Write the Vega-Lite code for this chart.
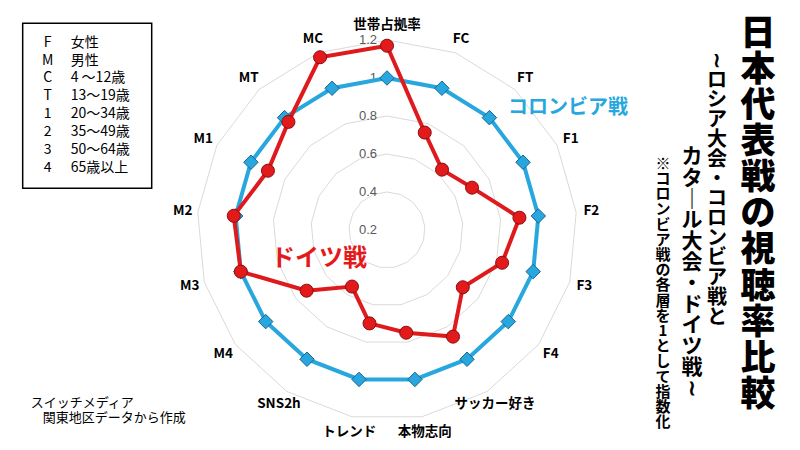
{
  "$schema": "https://vega.github.io/schema/vega-lite/v6.json",
  "width": 800,
  "height": 450,
  "autosize": {"type": "none"},
  "padding": 0,
  "background": "#ffffff",
  "config": {
    "view": {"stroke": null},
    "text": {"font": "Noto Sans CJK JP", "color": "#000000"}
  },
  "datasets": {
    "scores": [
      {"axis": "世帯占拠率", "k": 0, "match": "コロンビア戦", "index": 1.0},
      {"axis": "FC", "k": 1, "match": "コロンビア戦", "index": 1.0},
      {"axis": "FT", "k": 2, "match": "コロンビア戦", "index": 1.0},
      {"axis": "F1", "k": 3, "match": "コロンビア戦", "index": 1.0},
      {"axis": "F2", "k": 4, "match": "コロンビア戦", "index": 1.0},
      {"axis": "F3", "k": 5, "match": "コロンビア戦", "index": 1.0},
      {"axis": "F4", "k": 6, "match": "コロンビア戦", "index": 1.0},
      {"axis": "サッカー好き", "k": 7, "match": "コロンビア戦", "index": 1.0},
      {"axis": "本物志向", "k": 8, "match": "コロンビア戦", "index": 1.0},
      {"axis": "トレンド", "k": 9, "match": "コロンビア戦", "index": 1.0},
      {"axis": "SNS2h", "k": 10, "match": "コロンビア戦", "index": 1.0},
      {"axis": "M4", "k": 11, "match": "コロンビア戦", "index": 1.0},
      {"axis": "M3", "k": 12, "match": "コロンビア戦", "index": 1.0},
      {"axis": "M2", "k": 13, "match": "コロンビア戦", "index": 1.0},
      {"axis": "M1", "k": 14, "match": "コロンビア戦", "index": 1.0},
      {"axis": "MT", "k": 15, "match": "コロンビア戦", "index": 1.0},
      {"axis": "MC", "k": 16, "match": "コロンビア戦", "index": 1.0},
      {"axis": "世帯占拠率", "k": 0, "match": "ドイツ戦", "index": 1.17},
      {"axis": "FC", "k": 1, "match": "ドイツ戦", "index": 0.75},
      {"axis": "FT", "k": 2, "match": "ドイツ戦", "index": 0.63},
      {"axis": "F1", "k": 3, "match": "ドイツ戦", "index": 0.7},
      {"axis": "F2", "k": 4, "match": "ドイツ戦", "index": 0.9},
      {"axis": "F3", "k": 5, "match": "ドイツ戦", "index": 0.83},
      {"axis": "F4", "k": 6, "match": "ドイツ戦", "index": 0.7},
      {"axis": "サッカー好き", "k": 7, "match": "ドイツ戦", "index": 0.86},
      {"axis": "本物志向", "k": 8, "match": "ドイツ戦", "index": 0.75},
      {"axis": "トレンド", "k": 9, "match": "ドイツ戦", "index": 0.7},
      {"axis": "SNS2h", "k": 10, "match": "ドイツ戦", "index": 0.55},
      {"axis": "M4", "k": 11, "match": "ドイツ戦", "index": 0.73},
      {"axis": "M3", "k": 12, "match": "ドイツ戦", "index": 1.0},
      {"axis": "M2", "k": 13, "match": "ドイツ戦", "index": 1.01},
      {"axis": "M1", "k": 14, "match": "ドイツ戦", "index": 0.9},
      {"axis": "MT", "k": 15, "match": "ドイツ戦", "index": 0.97},
      {"axis": "MC", "k": 16, "match": "ドイツ戦", "index": 1.175}
    ],
    "rings": [
      {"level": 0.4, "k": [0, 1, 2, 3, 4, 5, 6, 7, 8, 9, 10, 11, 12, 13, 14, 15, 16]},
      {"level": 0.6, "k": [0, 1, 2, 3, 4, 5, 6, 7, 8, 9, 10, 11, 12, 13, 14, 15, 16]},
      {"level": 0.8, "k": [0, 1, 2, 3, 4, 5, 6, 7, 8, 9, 10, 11, 12, 13, 14, 15, 16]},
      {"level": 1.0, "k": [0, 1, 2, 3, 4, 5, 6, 7, 8, 9, 10, 11, 12, 13, 14, 15, 16]},
      {"level": 1.2, "k": [0, 1, 2, 3, 4, 5, 6, 7, 8, 9, 10, 11, 12, 13, 14, 15, 16]}
    ],
    "ticks": [
      {"v": 0.2, "label": "0.2"},
      {"v": 0.4, "label": "0.4"},
      {"v": 0.6, "label": "0.6"},
      {"v": 0.8, "label": "0.8"},
      {"v": 1.0, "label": "1"},
      {"v": 1.2, "label": "1.2"}
    ],
    "note": [{"n": 1}]
  },
  "layer": [
    {
      "data": {"name": "rings"},
      "transform": [
        {"flatten": ["k"]},
        {"calculate": "(datum.level - 0.2) * sin(datum.k * 2 * PI / 17)", "as": "x"},
        {"calculate": "(datum.level - 0.2) * cos(datum.k * 2 * PI / 17)", "as": "y"}
      ],
      "mark": {"type": "line", "interpolate": "linear-closed", "color": "#dadada", "strokeWidth": 1},
      "encoding": {
        "x": {"field": "x", "type": "quantitative", "axis": null, "scale": {"domain": [-2.0368, 2.1737], "nice": false, "zero": false}},
        "y": {"field": "y", "type": "quantitative", "axis": null, "scale": {"domain": [-1.1579, 1.2105], "nice": false, "zero": false}},
        "detail": {"field": "level", "type": "nominal"},
        "order": {"field": "k", "type": "quantitative"}
      }
    },
    {
      "data": {"name": "ticks"},
      "transform": [{"calculate": "datum.v - 0.2", "as": "y"}],
      "mark": {"type": "text", "align": "right", "baseline": "middle", "dx": -10, "fontSize": 13, "color": "#595959", "font": "Liberation Sans"},
      "encoding": {
        "x": {"datum": 0, "type": "quantitative", "axis": null, "scale": {"domain": [-2.0368, 2.1737], "nice": false, "zero": false}},
        "y": {"field": "y", "type": "quantitative", "axis": null, "scale": {"domain": [-1.1579, 1.2105], "nice": false, "zero": false}},
        "text": {"field": "label", "type": "nominal"}
      }
    },
    {
      "data": {"name": "scores"},
      "transform": [
        {"calculate": "(datum.index - 0.2) * sin(datum.k * 2 * PI / 17)", "as": "x"},
        {"calculate": "(datum.index - 0.2) * cos(datum.k * 2 * PI / 17)", "as": "y"},
        {"calculate": "1.08 * sin(datum.k * 2 * PI / 17)", "as": "lx"},
        {"calculate": "1.08 * cos(datum.k * 2 * PI / 17)", "as": "ly"}
      ],
      "encoding": {
        "x": {"field": "x", "type": "quantitative", "axis": null, "scale": {"domain": [-2.0368, 2.1737], "nice": false, "zero": false}},
        "y": {"field": "y", "type": "quantitative", "axis": null, "scale": {"domain": [-1.1579, 1.2105], "nice": false, "zero": false}},
        "order": {"field": "k", "type": "quantitative"}
      },
      "layer": [
        {
          "transform": [{"filter": "datum.match === 'コロンビア戦'"}],
          "mark": {"type": "line", "interpolate": "linear-closed", "color": "#27a7de", "strokeWidth": 4}
        },
        {
          "transform": [{"filter": "datum.match === 'コロンビア戦'"}],
          "mark": {"type": "point", "shape": "diamond", "filled": true, "fill": "#27a7de", "stroke": "#1b6690", "strokeWidth": 1, "size": 210, "opacity": 1}
        },
        {
          "transform": [{"filter": "datum.match === 'ドイツ戦'"}],
          "mark": {"type": "line", "interpolate": "linear-closed", "color": "#df1a1d", "strokeWidth": 4}
        },
        {
          "transform": [{"filter": "datum.match === 'ドイツ戦'"}],
          "mark": {"type": "point", "shape": "circle", "filled": true, "fill": "#e31a1c", "stroke": "#8c0d0d", "strokeWidth": 1, "size": 170, "opacity": 1}
        },
        {
          "transform": [{"filter": "datum.match === 'コロンビア戦'"}],
          "mark": {"type": "text", "align": "center", "baseline": "middle", "fontSize": 13.5, "fontWeight": "bold"},
          "encoding": {
            "x": {"field": "lx", "type": "quantitative", "axis": null, "scale": {"domain": [-2.0368, 2.1737], "nice": false, "zero": false}},
            "y": {"field": "ly", "type": "quantitative", "axis": null, "scale": {"domain": [-1.1579, 1.2105], "nice": false, "zero": false}},
            "text": {"field": "axis", "type": "nominal"}
          }
        }
      ]
    },
    {
      "data": {"name": "note"},
      "encoding": {
        "x": {"datum": 0.9526, "type": "quantitative", "axis": null, "scale": {"domain": [-2.0368, 2.1737], "nice": false, "zero": false}},
        "y": {"datum": 0.6421, "type": "quantitative", "axis": null, "scale": {"domain": [-1.1579, 1.2105], "nice": false, "zero": false}}
      },
      "mark": {"type": "text", "text": "コロンビア戦", "align": "center", "baseline": "middle", "fontSize": 20, "fontWeight": "bold", "color": "#27a7de"}
    },
    {
      "data": {"name": "note"},
      "encoding": {
        "x": {"datum": -0.3579, "type": "quantitative", "axis": null, "scale": {"domain": [-2.0368, 2.1737], "nice": false, "zero": false}},
        "y": {"datum": -0.1526, "type": "quantitative", "axis": null, "scale": {"domain": [-1.1579, 1.2105], "nice": false, "zero": false}}
      },
      "mark": {"type": "text", "text": "ドイツ戦", "align": "center", "baseline": "middle", "fontSize": 24, "fontWeight": "bold", "color": "#e31a1c"}
    },
    {
      "data": {"name": "note"},
      "encoding": {
        "x": {"datum": -1.9174, "type": "quantitative", "axis": null, "scale": {"domain": [-2.0368, 2.1737], "nice": false, "zero": false}},
        "x2": {"datum": -1.2384},
        "y": {"datum": 1.0879, "type": "quantitative", "axis": null, "scale": {"domain": [-1.1579, 1.2105], "nice": false, "zero": false}},
        "y2": {"datum": 0.2195}
      },
      "mark": {"type": "rect", "fill": "#ffffff", "stroke": "#000000", "strokeWidth": 1.5}
    },
    {
      "data": {"name": "note"},
      "encoding": {
        "x": {"datum": -1.7858, "type": "quantitative", "axis": null, "scale": {"domain": [-2.0368, 2.1737], "nice": false, "zero": false}},
        "y": {"datum": 1.0226, "type": "quantitative", "axis": null, "scale": {"domain": [-1.1579, 1.2105], "nice": false, "zero": false}}
      },
      "mark": {"type": "text", "text": "F\nM\nC\nT\n1\n2\n3\n4", "lineBreak": "\n", "lineHeight": 17.9, "align": "center", "baseline": "top", "fontSize": 14}
    },
    {
      "data": {"name": "note"},
      "encoding": {
        "x": {"datum": -1.6647, "type": "quantitative", "axis": null, "scale": {"domain": [-2.0368, 2.1737], "nice": false, "zero": false}},
        "y": {"datum": 1.0226, "type": "quantitative", "axis": null, "scale": {"domain": [-1.1579, 1.2105], "nice": false, "zero": false}}
      },
      "mark": {"type": "text", "text": "女性\n男性\n\u00a04 ～12歳\n13～19歳\n20～34歳\n35～49歳\n50～64歳\n65歳以上", "lineBreak": "\n", "lineHeight": 17.9, "align": "left", "baseline": "top", "fontSize": 14}
    },
    {
      "data": {"name": "note"},
      "encoding": {
        "x": {"datum": -1.8753, "type": "quantitative", "axis": null, "scale": {"domain": [-2.0368, 2.1737], "nice": false, "zero": false}},
        "y": {"datum": -0.8789, "type": "quantitative", "axis": null, "scale": {"domain": [-1.1579, 1.2105], "nice": false, "zero": false}}
      },
      "mark": {"type": "text", "text": "スイッチメディア", "align": "left", "baseline": "top", "fontSize": 13}
    },
    {
      "data": {"name": "note"},
      "encoding": {
        "x": {"datum": -1.8121, "type": "quantitative", "axis": null, "scale": {"domain": [-2.0368, 2.1737], "nice": false, "zero": false}},
        "y": {"datum": -0.9605, "type": "quantitative", "axis": null, "scale": {"domain": [-1.1579, 1.2105], "nice": false, "zero": false}}
      },
      "mark": {"type": "text", "text": "関東地区データから作成", "align": "left", "baseline": "top", "fontSize": 13}
    },
    {
      "data": {"name": "note"},
      "encoding": {
        "x": {"datum": 1.9526, "type": "quantitative", "axis": null, "scale": {"domain": [-2.0368, 2.1737], "nice": false, "zero": false}},
        "y": {"datum": 1.1232, "type": "quantitative", "axis": null, "scale": {"domain": [-1.1579, 1.2105], "nice": false, "zero": false}}
      },
      "mark": {"type": "text", "text": "日\n本\n代\n表\n戦\nの\n視\n聴\n率\n比\n較", "lineBreak": "\n", "lineHeight": 36.15, "align": "center", "baseline": "top", "fontSize": 35, "fontWeight": 900}
    },
    {
      "data": {"name": "note"},
      "encoding": {
        "x": {"datum": 1.7368, "type": "quantitative", "axis": null, "scale": {"domain": [-2.0368, 2.1737], "nice": false, "zero": false}},
        "y": {"datum": 0.9432, "type": "quantitative", "axis": null, "scale": {"domain": [-1.1579, 1.2105], "nice": false, "zero": false}}
      },
      "mark": {"type": "text", "text": "≀\nロ\nシ\nア\n大\n会\n・\nコ\nロ\nン\nビ\nア\n戦\nと", "lineBreak": "\n", "lineHeight": 19.75, "align": "center", "baseline": "top", "fontSize": 20, "fontWeight": "bold"}
    },
    {
      "data": {"name": "note"},
      "encoding": {
        "x": {"datum": 1.6053, "type": "quantitative", "axis": null, "scale": {"domain": [-2.0368, 2.1737], "nice": false, "zero": false}},
        "y": {"datum": 0.44, "type": "quantitative", "axis": null, "scale": {"domain": [-1.1579, 1.2105], "nice": false, "zero": false}}
      },
      "mark": {"type": "text", "text": "カ\nタ\n｜\nル\n大\n会\n・\nド\nイ\nツ\n戦\n≀", "lineBreak": "\n", "lineHeight": 21.1, "align": "center", "baseline": "top", "fontSize": 21, "fontWeight": "bold"}
    },
    {
      "data": {"name": "note"},
      "encoding": {
        "x": {"datum": 1.4526, "type": "quantitative", "axis": null, "scale": {"domain": [-2.0368, 2.1737], "nice": false, "zero": false}},
        "y": {"datum": 0.3853, "type": "quantitative", "axis": null, "scale": {"domain": [-1.1579, 1.2105], "nice": false, "zero": false}}
      },
      "mark": {"type": "text", "text": "※\nコ\nロ\nン\nビ\nア\n戦\nの\n各\n層\nを\n1\nと\nし\nて\n指\n数\n化", "lineBreak": "\n", "lineHeight": 15.2, "align": "center", "baseline": "top", "fontSize": 15, "fontWeight": "bold"}
    }
  ]
}
